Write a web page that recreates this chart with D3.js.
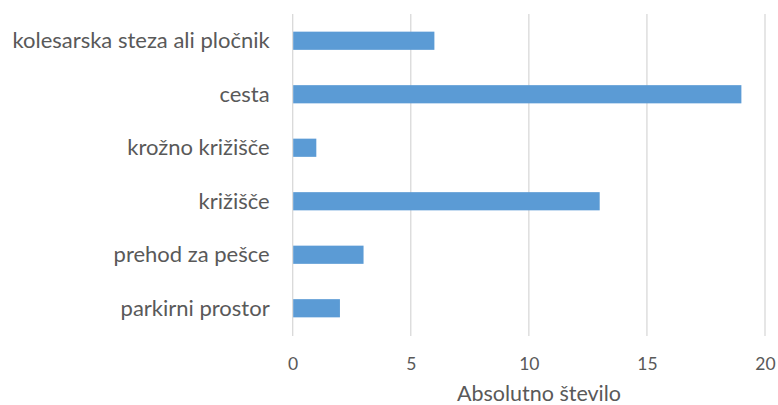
<!DOCTYPE html>
<meta charset="utf-8">
<style>
  body { margin: 0; background: #fff; }
  svg { display: block; font-family: Lato, "Open Sans", sans-serif; }
</style>
<svg></svg>
<script src="https://cdn.jsdelivr.net/npm/d3@7"></script>
<script>

// categories top to bottom, and the counts
var categories = ["kolesarska steza ali pločnik", "cesta", "krožno križišče", "križišče", "prehod za pešce", "parkirni prostor"]
var values = [6, 19, 1, 13, 3, 2]
var xTicks = [0, 5, 10, 15, 20]
var xTitle = "Absolutno število"

var width = 778
var height = 405
var margin = { top: 14, right: 13, bottom: 70, left: 292.7 }

var svg = d3.select("svg")
    .attr("width", width)
    .attr("height", height)

var x = d3.scaleLinear()
    .domain([0, 20])
    .range([margin.left, width - margin.right])

var y = d3.scaleBand()
    .domain(categories)
    .range([margin.top, height - margin.bottom])
    .paddingInner(0.66)
    .paddingOuter(0.33)

// vertical gridlines
svg.append("g")
  .selectAll("line")
  .data(xTicks)
  .enter().append("line")
    .attr("x1", function(d) { return x(d) })
    .attr("x2", function(d) { return x(d) })
    .attr("y1", margin.top)
    .attr("y2", height - margin.bottom + 1)
    .attr("stroke", "#d9d9d9")
    .attr("stroke-width", 1.3)

// bars
svg.append("g")
  .selectAll("rect")
  .data(categories)
  .enter().append("rect")
    .attr("x", x(0) + 0.5)
    .attr("y", function(d) { return y(d) })
    .attr("width", function(d, i) { return x(values[i]) - x(0) - 0.5 })
    .attr("height", y.bandwidth())
    .attr("fill", "#5b9bd5")

// category labels
svg.append("g")
  .selectAll("text")
  .data(categories)
  .enter().append("text")
    .attr("x", margin.left - 23)
    .attr("y", function(d) { return y(d) + y.bandwidth() / 2 })
    .attr("dy", "0.35em")
    .attr("text-anchor", "end")
    .attr("fill", "#595959")
    .style("font-size", "22px")
    .text(function(d) { return d })

// x tick labels
var xAxis = svg.append("g")
    .attr("transform", "translate(0," + (height - margin.bottom) + ")")
    .call(d3.axisBottom(x).tickValues(xTicks).tickSize(0).tickPadding(23))

xAxis.select(".domain").remove()
xAxis.selectAll("text")
    .attr("fill", "#595959")
    .style("font-family", "Lato, 'Open Sans', sans-serif")
    .style("font-size", "17.5px")

// axis title
svg.append("text")
    .attr("x", 539)
    .attr("y", 401)
    .attr("text-anchor", "middle")
    .attr("fill", "#595959")
    .style("font-size", "21.5px")
    .text(xTitle)

</script>
